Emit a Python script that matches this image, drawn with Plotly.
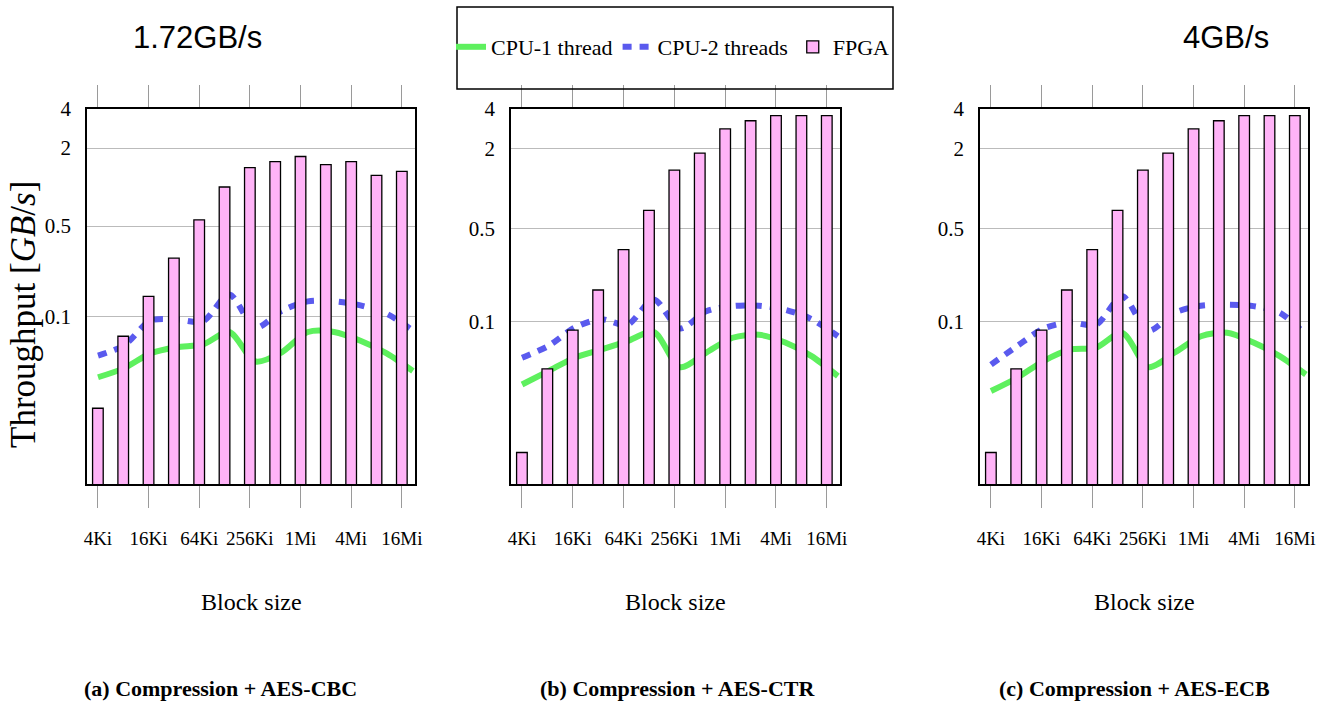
import math
import plotly.graph_objects as go

# ---------------- data ----------------
block_sizes = ["4Ki", "8Ki", "16Ki", "32Ki", "64Ki", "128Ki", "256Ki",
               "512Ki", "1Mi", "2Mi", "4Mi", "8Mi", "16Mi"]
tick_sizes = ["4Ki", "16Ki", "64Ki", "256Ki", "1Mi", "4Mi", "16Mi"]
y_ticks = [0.1, 0.5, 2, 4]
y_tick_text = ["0.1", "0.5", "2", "4"]

fpga_cbc = [0.0196, 0.0705, 0.143, 0.282, 0.558, 1.0, 1.41, 1.57, 1.72, 1.49, 1.57, 1.23, 1.32]
cpu1_cbc = [0.034, 0.040, 0.052, 0.058, 0.061, 0.076, 0.045, 0.053, 0.076, 0.076, 0.065, 0.052, 0.038]
cpu2_cbc = [0.050, 0.060, 0.093, 0.095, 0.092, 0.148, 0.082, 0.111, 0.131, 0.131, 0.122, 0.105, 0.078]

fpga_ctr = [0.0102, 0.0437, 0.0855, 0.172, 0.347, 0.687, 1.38, 1.86, 2.83, 3.26, 3.56, 3.56, 3.56]
cpu1_ctr = [0.0333, 0.042, 0.053, 0.061, 0.0707, 0.083, 0.045, 0.058, 0.075, 0.079, 0.069, 0.0545, 0.0385]
cpu2_ctr = [0.053, 0.065, 0.0896, 0.1036, 0.094, 0.146, 0.088, 0.119, 0.130, 0.131, 0.122, 0.1036, 0.077]

fpga_ecb = [0.0102, 0.0437, 0.0855, 0.172, 0.347, 0.687, 1.38, 1.86, 2.83, 3.26, 3.56, 3.56, 3.56]
cpu1_ecb = [0.0297, 0.0374, 0.050, 0.061, 0.063, 0.0817, 0.045, 0.058, 0.077, 0.0817, 0.069, 0.0545, 0.0396]
cpu2_ecb = [0.047, 0.065, 0.088, 0.098, 0.094, 0.154, 0.085, 0.116, 0.131, 0.133, 0.130, 0.116, 0.079]

panels = [
    ("(a) Compression + AES-CBC", fpga_cbc, cpu1_cbc, cpu2_cbc),
    ("(b) Compression + AES-CTR", fpga_ctr, cpu1_ctr, cpu2_ctr),
    ("(c) Compression + AES-ECB", fpga_ecb, cpu1_ecb, cpu2_ecb),
]

# ---------------- styling ----------------
W, H = 1318, 710
SERIF = "Liberation Serif"
SANS = "Liberation Sans"
PINK = "#FFB3F7"
GREEN = "#5EF05E"
BLUE = "#5A5AEE"
GRID = "#BBBBBB"

x_domains = [(87, 415), (511, 840), (980, 1308)]
y_dom = [1 - 484 / H, 1 - 109 / H]
y_mins = [0.0051, 0.0059, 0.0059]

fig = go.Figure()
layout = dict(
    width=W, height=H, autosize=False,
    margin=dict(l=0, r=0, t=0, b=0, pad=0, autoexpand=False),
    paper_bgcolor="white", plot_bgcolor="white",
    font=dict(family=SERIF, size=20, color="black"),
    showlegend=True,
    legend=dict(orientation="h", x=673 / W, xanchor="center",
                y=1 - 47 / H, yanchor="middle",
                bgcolor="rgba(0,0,0,0)", borderwidth=0,
                font=dict(family=SERIF, size=22), itemwidth=30,
                traceorder="normal"),
)


def ann(text, x, y, size, family=SERIF, angle=0):
    return dict(text=text, x=x / W, y=1 - y / H, xref="paper", yref="paper",
                xanchor="center", yanchor="middle", showarrow=False,
                textangle=angle, font=dict(family=family, size=size, color="black"))


annotations = []
for k, (caption, fpga, cpu1, cpu2) in enumerate(panels):
    xl = 2 * k + 1   # lines axis (base)
    xb = 2 * k + 2   # bars axis (overlay, drawn on top)
    yk = k + 1
    xl_name = "x" if xl == 1 else f"x{xl}"
    xb_name = f"x{xb}"
    y_name = "y" if yk == 1 else f"y{yk}"
    dom = [x_domains[k][0] / W, x_domains[k][1] / W]

    fig.add_trace(go.Scatter(
        x=block_sizes, y=cpu1, mode="lines", name="CPU-1 thread",
        line=dict(color=GREEN, width=6, shape="spline", smoothing=0.8),
        xaxis=xl_name, yaxis=y_name, showlegend=(k == 0), legendrank=1))
    fig.add_trace(go.Scatter(
        x=block_sizes, y=cpu2, mode="lines", name="CPU-2 threads",
        line=dict(color=BLUE, width=6, dash="9px,8px", shape="spline", smoothing=0.8),
        xaxis=xl_name, yaxis=y_name, showlegend=(k == 0), legendrank=2))
    fig.add_trace(go.Bar(
        x=block_sizes, y=fpga, name="FPGA", width=0.42,
        marker=dict(color=PINK, line=dict(color="black", width=1.3)),
        xaxis=xb_name, yaxis=y_name, showlegend=(k == 0), legendrank=3))

    layout["xaxis" if xl == 1 else f"xaxis{xl}"] = dict(
        domain=dom, anchor=y_name, type="category",
        categoryorder="array", categoryarray=block_sizes,
        range=[-0.42, 12.08], visible=False, fixedrange=True, automargin=False)
    layout[f"xaxis{xb}"] = dict(
        domain=dom, anchor=y_name, overlaying=xl_name, type="category",
        categoryorder="array", categoryarray=block_sizes,
        range=[-0.43, 12.52], side="bottom", automargin=False,
        tickmode="array", tickvals=tick_sizes, ticktext=tick_sizes,
        ticks="outside", ticklen=22, tickwidth=1, tickcolor="#9A9A9A",
        ticklabelstandoff=14,
        showline=True, linecolor="black", linewidth=1.5, mirror="ticks",
        showgrid=False, zeroline=False,
        tickfont=dict(family=SERIF, size=19))
    layout["yaxis" if yk == 1 else f"yaxis{yk}"] = dict(
        domain=y_dom, anchor=xl_name, type="log", automargin=False,
        range=[math.log10(y_mins[k]), math.log10(4)],
        tickmode="array", tickvals=y_ticks, ticktext=y_tick_text,
        ticks="", ticklabelstandoff=10,
        showgrid=True, gridcolor=GRID, gridwidth=1.2,
        showline=True, linecolor="black", linewidth=1.5, mirror=True,
        zeroline=False, tickfont=dict(family=SERIF, size=21))

    cx = (x_domains[k][0] + x_domains[k][1]) / 2
    annotations.append(ann("Block size", cx, 602, 24))

caption_x = [220, 677, 1134]
for k, (caption, *_rest) in enumerate(panels):
    annotations.append(ann(f"<b>{caption}</b>", caption_x[k], 688, 22))

annotations.append(ann("Throughput [<i>GB</i>/<i>s</i>]", 23, 315, 35, angle=-90))
annotations.append(ann("1.72GB/s", 197, 37, 31, family=SANS))
annotations.append(ann("4GB/s", 1226, 37, 31, family=SANS))

layout["annotations"] = annotations
layout["shapes"] = [dict(type="rect", xref="paper", yref="paper",
                         x0=457 / W, x1=893 / W, y0=1 - 89 / H, y1=1 - 7 / H,
                         line=dict(color="black", width=1.5), fillcolor="rgba(0,0,0,0)",
                         layer="above")]

fig.update_layout(**layout)
fig.write_html("out.html",
               config={"displayModeBar": False},
               post_script="document.body.style.margin='0';document.body.style.overflow='hidden';")
